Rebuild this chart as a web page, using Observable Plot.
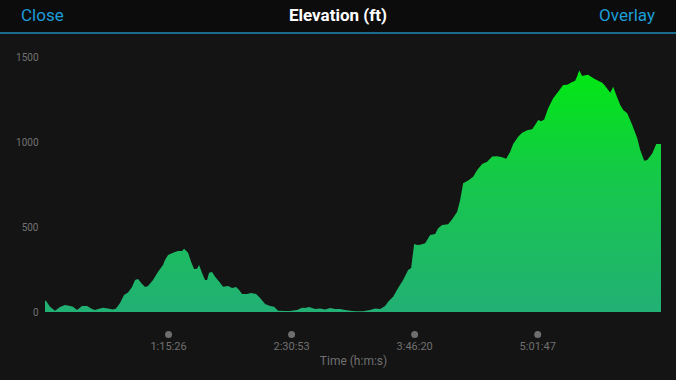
<!DOCTYPE html>
<html>
<head>
<meta charset="utf-8">
<script src="https://cdn.jsdelivr.net/npm/d3@7"></script>
<script src="https://cdn.jsdelivr.net/npm/@observablehq/plot@0.6"></script>
<style>
  html, body { margin: 0; padding: 0; background: #141414; width: 676px; height: 380px; overflow: hidden; font-family: Roboto, "Liberation Sans", sans-serif; }
  #header { position: relative; height: 32px; background: #0c0c0c; border-bottom: 2px solid #1a6b8e; }
  #header .l, #header .r, #header .c { position: absolute; top: 4px; font-size: 17px; line-height: 22px; }
  #header .l { left: 21px; color: #1c9cd8; }
  #header .r { right: 21px; color: #1c9cd8; }
  #header .c { left: 0; right: 0; text-align: center; color: #ffffff; font-weight: bold; }
  #chart svg { display: block; }
</style>
</head>
<body>
<div id="header"><span class="l">Close</span><span class="c">Elevation (ft)</span><span class="r">Overlay</span></div>
<div id="chart"></div>
<script>
// elapsed time in seconds
const times = [0,37,184,368,552,736,920,1030,1178,1362,1546,1730,1840,1950,2134,2318,2502,2613,2760,2907,3054,3202,3312,3422,3570,3680,3790,3974,4158,4342,4415,4526,4710,4894,5042,5115,5262,5373,5483,5594,5667,5778,5888,5962,6035,6146,6256,6440,6550,6734,6882,7029,7139,7250,7434,7581,7765,7912,8096,8280,8427,8574,8832,9016,9274,9458,9568,9715,9936,10120,10304,10488,10672,10856,11040,11298,11482,11702,11960,12144,12328,12512,12622,12806,12990,13174,13358,13469,13579,13690,13800,13984,14168,14352,14462,14610,14830,14978,15162,15272,15382,15566,15750,15898,16082,16266,16450,16634,16818,16965,17112,17222,17406,17554,17738,17922,18069,18142,18253,18363,18510,18694,18878,19062,19210,19394,19504,19578,19651,19762,19872,19982,20130,20240,20350,20498,20608,20718,20792,20902,21013,21160,21270,21418,21602,21786,21896,22043,22154,22338,22485,22660];
// elevation in feet
const elevation = [66,66,31,8,29,41,35,31,12,35,35,18,12,18,25,20,14,20,53,100,114,147,188,194,165,147,153,188,237,276,306,335,349,359,359,372,349,296,253,255,276,229,188,188,231,235,208,172,149,153,141,147,129,106,106,112,106,82,47,35,31,8,6,6,12,25,24,29,18,20,14,24,18,18,12,6,4,4,12,20,18,35,61,90,141,188,247,259,400,394,396,404,453,459,492,512,516,545,590,659,757,773,796,835,871,884,914,916,910,902,943,988,1031,1055,1069,1075,1110,1129,1122,1133,1198,1257,1296,1335,1337,1353,1361,1388,1420,1388,1392,1396,1380,1369,1361,1349,1329,1306,1290,1325,1276,1218,1188,1169,1100,1022,953,890,894,933,988,988];
const xTicks = [4526, 9053, 13580, 18107];
const xTickLabels = ["1:15:26", "2:30:53", "3:46:20", "5:01:47"];
const yTicks = [0, 500, 1000, 1500];
const xLabel = "Time (h:m:s)";

const data = times.map((t, i) => ({t, e: elevation[i]}));
const tickData = xTicks.map((t, i) => ({t, label: xTickLabels[i]}));

const chart = Plot.plot({
  width: 676,
  height: 346,
  marginLeft: 45,
  marginRight: 15,
  marginTop: 23,
  marginBottom: 68,
  style: {background: "#141414", fontFamily: "Roboto, 'Liberation Sans', sans-serif"},
  x: {domain: [0, 22660]},
  y: {domain: [0, 1500]},
  marks: [
    Plot.areaY(data, {x: "t", y: "e", fill: "url(#elevGrad)"}),
    Plot.axisY({ticks: yTicks, tickFormat: d3.format("d"), tickSize: 0, tickPadding: 7, fontSize: 10, color: "#727272", label: null}),
    Plot.axisX({ticks: [], label: null}),
    Plot.dot(tickData, {x: "t", frameAnchor: "bottom", dy: 22, r: 3.5, fill: "#6e6e6e", stroke: null}),
    Plot.text(tickData, {x: "t", text: "label", frameAnchor: "bottom", dy: 37, fontSize: 11, fill: "#707070"}),
    Plot.text([xLabel], {text: d => d, frameAnchor: "bottom", dy: 52, fontSize: 12, fill: "#707070"})
  ]
});

const ns = "http://www.w3.org/2000/svg";
const defs = document.createElementNS(ns, "defs");
const grad = document.createElementNS(ns, "linearGradient");
grad.setAttribute("id", "elevGrad");
grad.setAttribute("x1", "0"); grad.setAttribute("y1", "1");
grad.setAttribute("x2", "0"); grad.setAttribute("y2", "0");
[["0%", "#22b075"], ["55%", "#16c84a"], ["100%", "#00e812"]].forEach(([o, c]) => {
  const s = document.createElementNS(ns, "stop");
  s.setAttribute("offset", o); s.setAttribute("stop-color", c);
  grad.appendChild(s);
});
defs.appendChild(grad);
chart.insertBefore(defs, chart.firstChild);
document.getElementById("chart").appendChild(chart);
</script>
</body>
</html>
